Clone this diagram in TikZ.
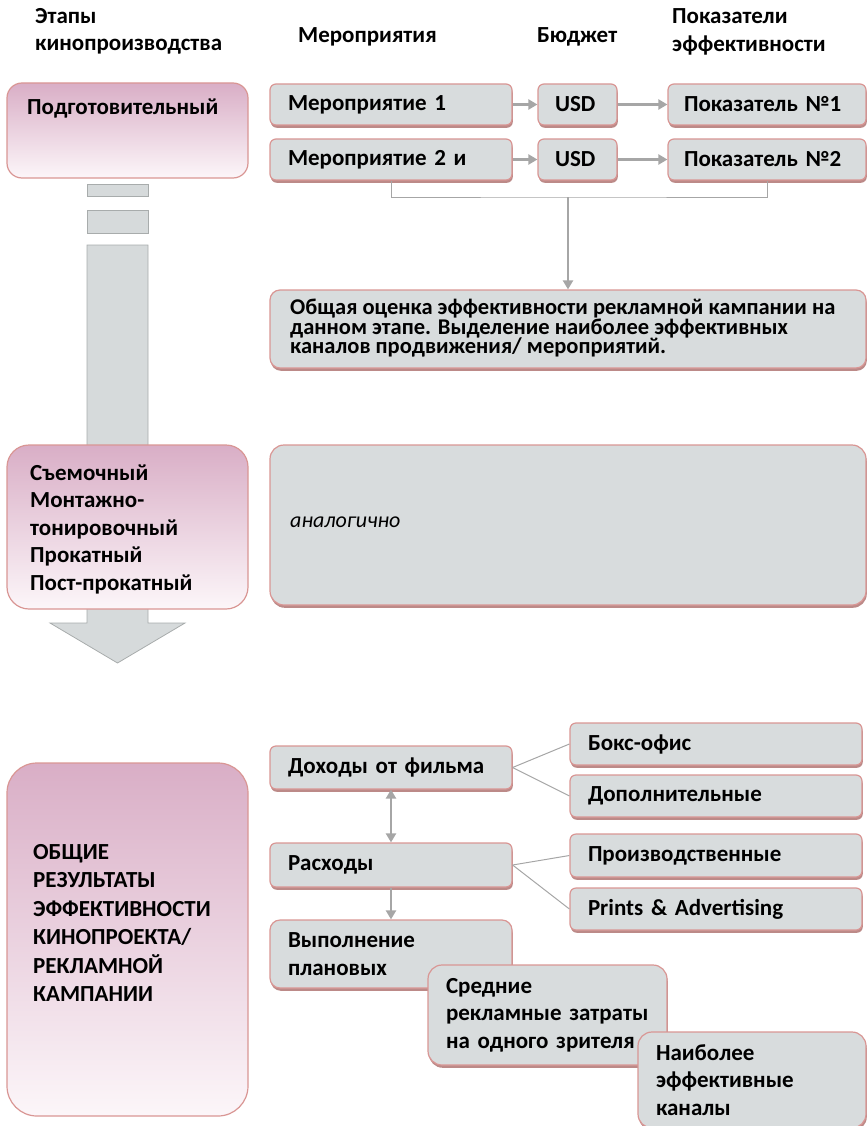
\documentclass[tikz,border=0pt]{standalone}
\usepackage{fontspec}
\setmainfont{Carlito}
\usetikzlibrary{arrows.meta,shadows}

\definecolor{boxgray}{RGB}{216,220,221}
\definecolor{edgepink}{RGB}{217,150,148}
\definecolor{shadepink}{RGB}{188,138,136}
\definecolor{stagetop}{RGB}{217,174,198}
\definecolor{stagebot}{RGB}{252,246,249}
\definecolor{linegray}{RGB}{166,166,166}
\definecolor{shaftgray}{RGB}{214,218,219}
\definecolor{shaftedge}{RGB}{168,172,172}

\begin{document}
\begin{tikzpicture}[x=1pt,y=-1pt,
  stage box/.style={draw=edgepink,line width=1.2pt,top color=stagetop,bottom color=stagebot,inner sep=0pt},
  act box/.style={draw=edgepink,line width=1.2pt,fill=boxgray,rounded corners=6pt,drop shadow={shadow xshift=0.8pt,shadow yshift=-2.8pt,fill=shadepink,opacity=1},font=\fontsize{23}{27.5}\selectfont\bfseries,align=left,inner xsep=18pt,inner ysep=0pt},
  head/.style={font=\fontsize{23}{27.5}\selectfont\bfseries,align=left,inner sep=0pt},
  shaft/.style={draw=shaftedge,fill=shaftgray,line width=0.8pt},
  flow/.style={draw=linegray,line width=2.2pt,-{Triangle[length=9pt,width=10pt]}},
  link/.style={draw=linegray,line width=1pt}]
\useasboundingbox (0,0) rectangle (867,1126);

% column heads
\node[head,anchor=west] (hstage) at (35,31.5) {Этапы\\кинопроизводства};
\node[head,anchor=west] (hact) at (298,37) {Мероприятия};
\node[head,anchor=west] (hbud) at (537,37) {Бюджет};
\node[head,anchor=west] (hkpi) at (672,32) {Показатели\\эффективности};

% big arrow down the stages
\draw[shaft] (87,184) rectangle (148,196);
\draw[shaft] (87,210) rectangle (148,233);
\draw[shaft] (87,245) -- (148,245) -- (148,623) -- (185,623) -- (117.5,663) -- (50,623) -- (87,623) -- cycle;

% stages
\node[stage box,rounded corners=15pt,minimum width=241pt,minimum height=95pt] (prep) at (127.5,130.5) {};
\node[head,anchor=west] (prept) at (27,109) {Подготовительный};
\node[stage box,rounded corners=22pt,minimum width=241pt,minimum height=164pt] (shoot) at (127.5,527) {};
\node[head,anchor=west] (shoott) at (30,529) {Съемочный\\Монтажно-\\тонировочный\\Прокатный\\Пост-прокатный};
\node[stage box,rounded corners=30pt,minimum width=241pt,minimum height=353pt] (total) at (127.5,939.5) {};
\node[head,anchor=west,font=\fontsize{23}{28.4}\selectfont\bfseries] (totalt) at (33,923) {ОБЩИЕ\\РЕЗУЛЬТАТЫ\\ЭФФЕКТИВНОСТИ\\КИНОПРОЕКТА/\\РЕКЛАМНОЙ\\КАМПАНИИ};

% preparation stage
\node[act box,text width=206pt,minimum height=41pt] (act1) at (391,104.5) {Мероприятие~1};
\node[act box,text width=206pt,minimum height=41pt] (act2) at (391,159.5) {Мероприятие~2~и};
\node[act box,text width=45pt,minimum height=41pt,inner xsep=17pt] (usd1) at (577.5,104.5) {USD};
\node[act box,text width=45pt,minimum height=41pt,inner xsep=17pt] (usd2) at (577.5,159.5) {USD};
\node[act box,text width=166pt,minimum height=41pt,inner xsep=16pt] (kpi1) at (767,104.5) {Показатель~№1};
\node[act box,text width=166pt,minimum height=41pt,inner xsep=16pt] (kpi2) at (767,159.5) {Показатель~№2};
\draw[flow] (act1) -- (usd1);
\draw[flow] (usd1) -- (kpi1);
\draw[flow] (act2) -- (usd2);
\draw[flow] (usd2) -- (kpi2);

\node[act box,rounded corners=10pt,minimum width=596pt,minimum height=78pt] (eval) at (568,329) {};
\node[head,anchor=west,font=\fontsize{22.5}{19.5}\selectfont\bfseries] (evalt) at (290,328.5) {Общая оценка эффективности рекламной кампании на\\данном этапе. Выделение наиболее эффективных\\каналов продвижения/ мероприятий.};
\coordinate (brk) at (568,197);
\draw[link] (act2.south) |- (brk) -| (kpi2.south);
\draw[flow] (brk) -- (eval.north);

% other stages
\node[act box,rounded corners=14pt,minimum width=596pt,minimum height=160pt] (same) at (568,525) {};
\node[head,anchor=west,font=\fontsize{22}{24}\selectfont\itshape] (samet) at (290,522) {аналогично};

% results
\node[act box,text width=206pt,minimum height=43pt] (income) at (391,767.5) {Доходы~от~фильма};
\node[act box,text width=256pt,minimum height=42pt] (boxoff) at (716,744) {Бокс-офис};
\node[act box,text width=256pt,minimum height=42pt] (extra) at (716,796) {Дополнительные};
\node[act box,text width=206pt,minimum height=44pt] (costs) at (391,865) {Расходы};
\node[act box,text width=256pt,minimum height=43pt] (prod) at (716,855.5) {Производственные};
\node[act box,text width=256pt,minimum height=42pt] (pa) at (716,909) {Prints~\&~Advertising};
\node[act box,text width=206pt,minimum height=68pt,rounded corners=10pt] (plan) at (391,954) {Выполнение\\плановых};
\node[act box,text width=203pt,minimum height=100pt,rounded corners=14pt] (avg) at (547.5,1015) {Средние\\рекламные~затраты\\на~одного~зрителя};
\node[act box,text width=192pt,minimum height=96pt,rounded corners=14pt] (best) at (752,1080) {Наиболее\\эффективные\\каналы};

\draw[flow,{Triangle[length=9pt,width=10pt]}-{Triangle[length=9pt,width=10pt]}] (income) -- (costs);
\draw[flow] (costs) -- (plan);
\draw[link] (income.east) -- (boxoff.west);
\draw[link] (income.east) -- (extra.west);
\draw[link] (costs.east) -- (prod.west);
\draw[link] (costs.east) -- (pa.west);
\end{tikzpicture}
\end{document}
